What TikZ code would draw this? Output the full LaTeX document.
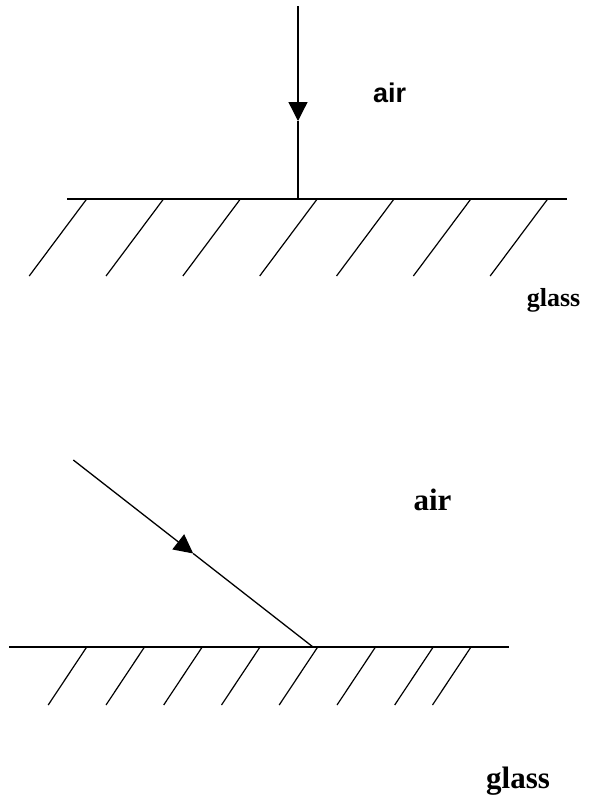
\documentclass[tikz,border=0pt]{standalone}
\usepackage{fontspec}
\setmainfont{Liberation Serif}
\setsansfont{Liberation Sans}
\usetikzlibrary{arrows.meta}
\begin{document}
\begin{tikzpicture}[x=1pt,y=-1pt,
  surf/.style={line width=1.4pt},
  hatchline/.style={line width=1.2pt},
  ray/.style={line width=1.3pt},
  head/.style={-{Triangle[length=19pt,width=19pt]}},
  lbl/.style={anchor=base west, inner sep=0pt, font=\bfseries}]
\useasboundingbox (0,0) rectangle (590,796);
% ---------- top diagram ----------
\coordinate (tA) at (298,6);
\coordinate (tM) at (298,121);
\coordinate (tB) at (298,199);
\coordinate (sL1) at (67,199);
\coordinate (sR1) at (567,199);
\draw[surf] (sL1) -- (sR1);
\foreach \i in {0,...,6}{
  \draw[hatchline] (86.7+76.83*\i,199) -- ++(-57.5,77);
}
\draw[ray,head] (tA) -- (tM);
\draw[ray] (tM) -- (tB);
\node[lbl, font=\sffamily\bfseries\fontsize{27}{27}\selectfont] (air1) at (373,102.7) {air};
\node[lbl, font=\bfseries\fontsize{26}{26}\selectfont] (glass1) at (526.7,306) {glass};
% ---------- bottom diagram ----------
\coordinate (bA) at (73.3,460);
\coordinate (bM) at (193.2,553.5);
\coordinate (bB) at (313,647);
\coordinate (sL2) at (9.3,647);
\coordinate (sR2) at (509.3,647);
\draw[surf] (sL2) -- (sR2);
\foreach \x in {86.7,144.5,202.2,260,317.7,375.5,433.2,471}{
  \draw[hatchline] (\x,647) -- ++(-38.5,58);
}
\draw[ray,head] (bA) -- (bM);
\draw[ray] (bM) -- (bB);
\node[lbl, font=\bfseries\fontsize{31}{31}\selectfont] (air2) at (413.3,510.7) {air};
\node[lbl, font=\bfseries\fontsize{31}{31}\selectfont] (glass2) at (486,788) {glass};
\end{tikzpicture}
\end{document}
